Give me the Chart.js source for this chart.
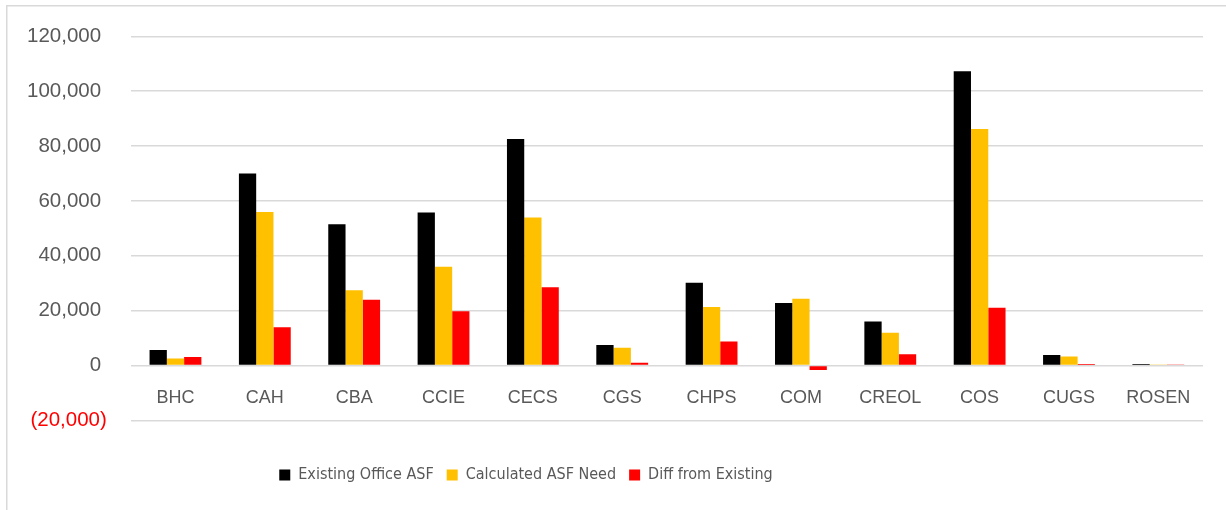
<!DOCTYPE html>
<html>
<head>
<meta charset="utf-8">
<script src="https://cdn.jsdelivr.net/npm/chart.js@4/dist/chart.umd.min.js"></script>
<style>
  html, body { margin: 0; padding: 0; background: #ffffff; }
  #wrap { width: 1226px; height: 510px; position: relative; }
</style>
</head>
<body>
<div id="wrap"><canvas id="c" width="1226" height="510"></canvas></div>
<script>
const categories = ["BHC", "CAH", "CBA", "CCIE", "CECS", "CGS", "CHPS", "COM", "CREOL", "COS", "CUGS", "ROSEN"];
const existingOfficeASF = [5700, 70000, 51500, 55800, 82600, 7500, 30200, 22800, 16100, 107300, 3900, 600];
const calculatedASFNeed = [2600, 56000, 27500, 36000, 54000, 6500, 21400, 24400, 12000, 86200, 3300, 400];
const diffFromExisting  = [3100, 14000, 24000, 19800, 28600, 1000, 8800, -1600, 4100, 21100, 600, 200];
const seriesNames = ["Existing Office ASF", "Calculated ASF Need", "Diff from Existing"];
const yTickMin = -20000, yTickMax = 120000, yTickStep = 20000;

const GRID = '#D9D9D9';
const TEXT = '#595959';
const FONT = "'Liberation Sans', Arial, sans-serif";
const NARROW = "'Liberation Sans Narrow', 'DejaVu Sans Condensed', 'Liberation Sans', sans-serif";
const LEGEND_CENTER = 526;

const frame = {
  id: 'frame',
  beforeDraw(chart) {
    const ctx = chart.ctx;
    ctx.save();
    ctx.strokeStyle = GRID;
    ctx.lineWidth = 1.5;
    ctx.beginPath();
    ctx.moveTo(6.75, 510);
    ctx.lineTo(6.75, 5.75);
    ctx.lineTo(1226, 5.75);
    ctx.stroke();
    ctx.restore();
  }
};

const legendShift = {
  id: 'legendShift',
  afterLayout(chart) {
    const lg = chart.legend;
    if (!lg) return;
    const d = LEGEND_CENTER - (lg.left + lg.right) / 2;
    lg.left += d;
    lg.right += d;
  }
};

function fmt(v) {
  const s = Math.abs(v).toLocaleString('en-US');
  return v < 0 ? '(' + s + ')' : s + ' ';
}

new Chart(document.getElementById('c'), {
  type: 'bar',
  data: {
    labels: categories,
    datasets: [
      { label: seriesNames[0], data: existingOfficeASF, backgroundColor: '#000000' },
      { label: seriesNames[1], data: calculatedASFNeed, backgroundColor: '#FFC000' },
      { label: seriesNames[2], data: diffFromExisting, backgroundColor: '#FF0000' }
    ]
  },
  options: {
    responsive: false,
    animation: false,
    layout: { padding: { left: 3, right: 23, top: 34, bottom: 17 } },
    datasets: { bar: { categoryPercentage: 0.58, barPercentage: 1.0, borderWidth: 0 } },
    scales: {
      x: {
        position: { y: 0 },
        grid: { display: false, drawTicks: false },
        border: { display: false },
        ticks: { color: TEXT, font: { family: FONT, size: 18 }, padding: 22, maxRotation: 0 }
      },
      y: {
        min: yTickMin, max: yTickMax,
        grid: { color: GRID, lineWidth: 1.5, drawTicks: false },
        border: { display: false },
        ticks: {
          stepSize: yTickStep,
          padding: 24,
          font: { family: FONT, size: 20.5 },
          color: (c) => (c.tick && c.tick.value < 0) ? '#FF0000' : TEXT,
          callback: (v) => fmt(v)
        }
      }
    },
    plugins: {
      legend: {
        position: 'bottom',
        title: { display: true, text: '', font: { size: 10 }, padding: { top: 21.5, bottom: 0 } },
        labels: {
          color: TEXT,
          font: { family: NARROW, size: 16 },
          boxWidth: 11, boxHeight: 11,
          padding: 13
        }
      },
      tooltip: { enabled: false }
    }
  },
  plugins: [frame, legendShift]
});
</script>
</body>
</html>
